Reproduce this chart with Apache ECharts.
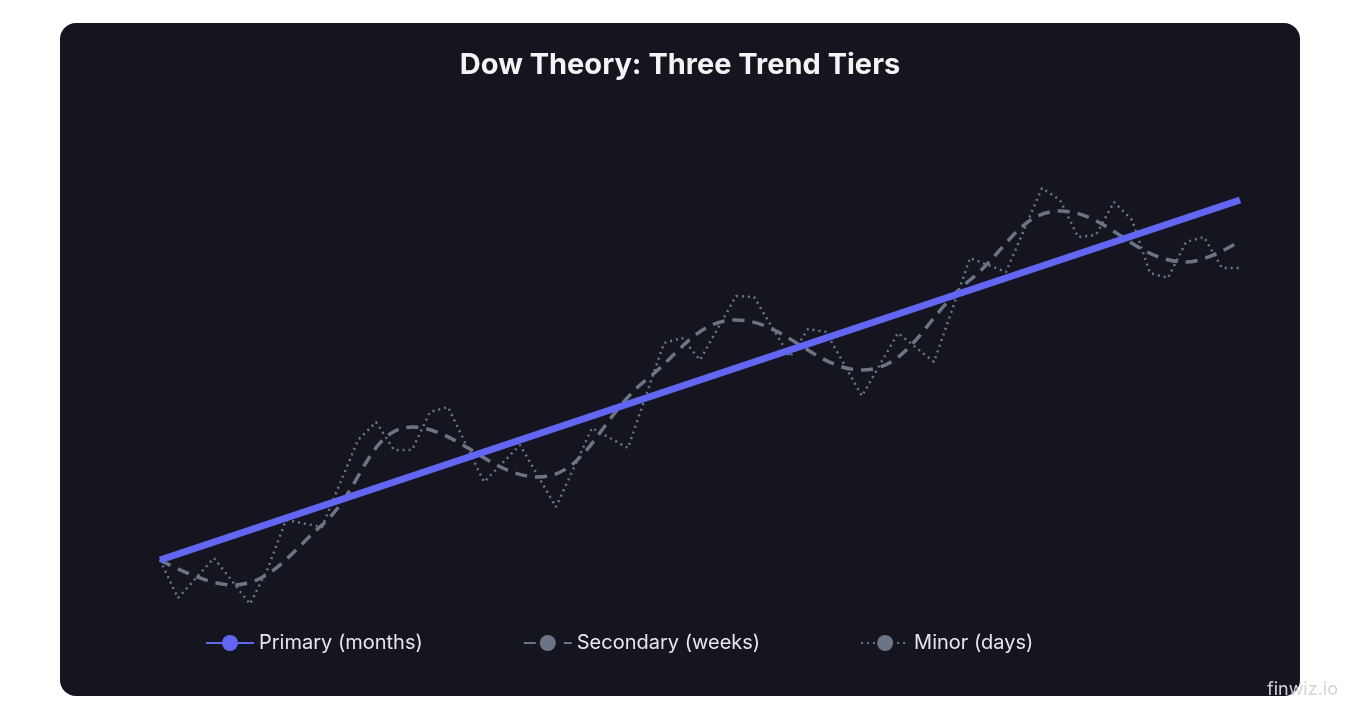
<!DOCTYPE html>
<html>
<head>
<meta charset="utf-8">
<script src="https://cdn.jsdelivr.net/npm/echarts@6/dist/echarts.min.js"></script>
<style>
  html, body { margin: 0; padding: 0; background: #ffffff; }
  #panel { position: absolute; left: 60px; top: 23px; width: 1240px; height: 673px; background: #14151f; border-radius: 16px; }
  #chart { position: absolute; left: 0; top: 0; width: 1360px; height: 720px; }
  #mark { position: absolute; right: 22px; top: 678px; font: 18px Inter, sans-serif; color: #d4d4d8; }
</style>
</head>
<body>
<div id="panel"></div>
<div id="chart"></div>
<div id="mark">finwiz.io</div>
<script>
  // [day, level]
  const primary = [[0, 140], [60, 500]];
  const secondary = [[0, 140], [4, 115], [9, 175], [14, 273], [21, 223], [27, 320], [32, 380], [39, 330], [45, 420], [50, 489], [57, 438], [60, 459]];
  const minor = [
    [0, 140], [1, 102], [3, 142], [5, 96], [6, 132], [7, 180], [9, 173], [11, 260], [12, 278], [13, 250],
    [14, 250], [15, 288], [16, 293], [18, 218], [20, 255], [22, 193], [24, 272], [26, 252], [28, 357], [29, 362],
    [30, 340], [32, 404], [33, 403], [35, 343], [36, 371], [37, 368], [39, 304], [41, 367], [43, 338], [45, 442],
    [47, 428], [49, 512], [50, 500], [51, 463], [52, 465], [53, 498], [54, 480], [55, 427], [56, 422], [57, 458],
    [58, 463], [59, 432], [60, 432]
  ];
  const names = ["Primary (months)", "Secondary (weeks)", "Minor (days)"];

  const chart = echarts.init(document.getElementById("chart"));
  chart.setOption({
    backgroundColor: "transparent",
    animation: false,
    title: {
      text: "Dow Theory: Three Trend Tiers",
      left: "center",
      top: 46,
      textStyle: { color: "#f4f4f5", fontSize: 29, fontWeight: "bold", fontFamily: "Inter" }
    },
    legend: {
      left: 200,
      top: 628,
      itemWidth: 48,
      itemHeight: 20,
      itemGap: 100,
      textStyle: { color: "#e5e7eb", fontSize: 20, fontFamily: "Inter" },
      data: names
    },
    grid: { left: 160, right: 120, top: 180, bottom: 100 },
    xAxis: { type: "value", min: 0, max: 60, show: false },
    yAxis: { type: "value", min: 80, max: 520, show: false },
    series: [
      {
        name: names[2], type: "line", data: minor, symbol: "none", z: 1,
        lineStyle: { color: "#6b7587", width: 2.5, type: [2, 4] },
        itemStyle: { color: "#6b7587" }
      },
      {
        name: names[1], type: "line", data: secondary, symbol: "none", smooth: 0.4, z: 2,
        lineStyle: { color: "#6b7587", width: 3.5, type: [12, 8] },
        itemStyle: { color: "#6b7587" }
      },
      {
        name: names[0], type: "line", data: primary, symbol: "none", z: 3,
        lineStyle: { color: "#6366f1", width: 7 },
        itemStyle: { color: "#6366f1" }
      }
    ]
  });
</script>
</body>
</html>
